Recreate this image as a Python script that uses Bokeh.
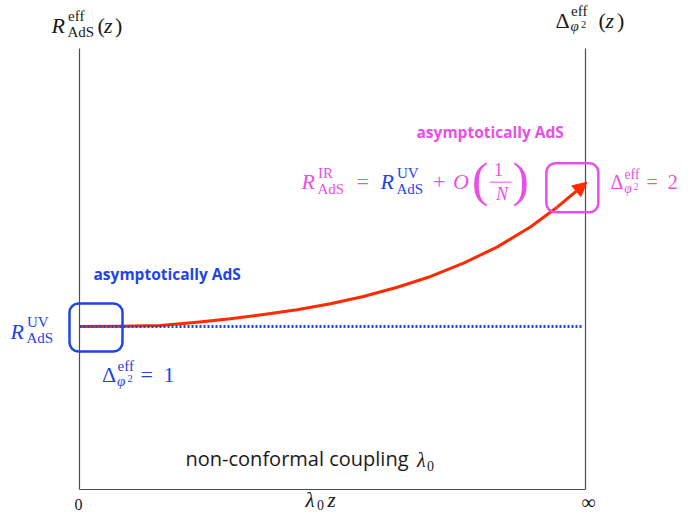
from bokeh.plotting import figure
from bokeh.models import Range1d, Label, Arrow, NormalHead
from bokeh.embed import file_html
from bokeh.resources import INLINE

# ---------------- data (schematic) ----------------
# horizontal: lambda_0 z, normalised so that 0 -> left line, 1 (= infinity) -> right line
# vertical: R_eff in units of R_UV (R_UV = 1)
x_ticks = [0.0, 1.0]
x_tick_labels = ["0", "∞"]
R_UV = 1.0
axis_top = 2.705
curve_x = [0.000, 0.081, 0.160, 0.237, 0.298, 0.364, 0.430, 0.496, 0.561,
           0.628, 0.694, 0.759, 0.825, 0.891, 0.944, 1.003]
curve_y = [1.000, 1.001, 1.006, 1.027, 1.047, 1.074, 1.103, 1.140, 1.184,
           1.241, 1.307, 1.389, 1.487, 1.610, 1.732, 1.885]
uv_x = [0.0, 0.994]
uv_y = [R_UV, R_UV]
box_uv = (0.0326, 0.994)     # centre of blue box (UV end)
box_ir = (0.974, 1.851)      # centre of magenta box (IR end)

# ---------------- layout helpers ----------------
X0, XS, Y0, YS = 79.0, 506.0, 489.0, 163.0
def X(px):
    return (px - X0) / XS
def Y(py):
    return (Y0 - py) / YS

W, H = 680, 513
BLUE = "#1f44e8"
MAG = "#e94fe6"
RED = "#ff2a00"
INK = "#1a1a1a"
AX = "#4d4d4d"
SERIF = "Liberation Serif"
SANS = "Open Sans"
MID = {SERIF: 0.34, SANS: 0.39}   # baseline -> middle offset (em)

p = figure(width=W, height=H, output_backend="svg", toolbar_location=None,
           x_range=Range1d(X(0), X(W)), y_range=Range1d(Y(H), Y(0)),
           x_axis_type=None, y_axis_type=None, min_border=0,
           outline_line_color=None, background_fill_color="white")
p.xgrid.visible = False
p.ygrid.visible = False

# frame lines
p.line([x_ticks[0], x_ticks[0]], [0, axis_top], line_color=AX, line_width=1.2)
p.line([x_ticks[1], x_ticks[1]], [0, axis_top], line_color=AX, line_width=1.2)
p.line(x_ticks, [0, 0], line_color=AX, line_width=1.2)

# red flow curve with arrow
p.line(curve_x[:-1], curve_y[:-1], line_color=RED, line_width=3, line_join="round")
p.add_layout(Arrow(x_start=curve_x[-2], y_start=curve_y[-2], x_end=curve_x[-1], y_end=curve_y[-1],
                   line_color=RED, line_width=3,
                   end=NormalHead(size=14, fill_color=RED, line_color=RED, line_width=1)))

# blue dotted constant line
p.line(uv_x, uv_y, line_color=BLUE, line_width=3, line_dash="2 2")

# rounded boxes
p.rect(x=[box_uv[0]], y=[box_uv[1]], width=53, height=48, width_units="screen",
       height_units="screen", fill_alpha=0, line_color=BLUE, line_width=2.5, border_radius=9)
p.rect(x=[box_ir[0]], y=[box_ir[1]], width=52, height=49, width_units="screen",
       height_units="screen", fill_alpha=0, line_color=MAG, line_width=2.5, border_radius=9)

def lab(px, py, text, size, color, style="normal", font=SERIF, align="left"):
    # py is the wanted baseline (pixels from top); place the text by its middle
    ym = py - MID[font] * size
    p.add_layout(Label(x=X(px), y=Y(ym), text=text, text_font=font,
                       text_font_size=f"{size:.1f}px", text_font_style=style,
                       text_color=color, text_align=align, text_baseline="middle"))

def R_sym(px, py, sup, sub, color):
    lab(px, py, "R", 22, color, "italic")
    lab(px + 16.5, py - 11, sup, 15, color)
    lab(px + 16, py + 5, sub, 15, color)

def Delta_sym(px, py, color, s=1.0):
    lab(px, py, "Δ", 22 * s, color)
    lab(px + 15.5 * s, py - 11 * s, "eff", 15 * s, color)
    lab(px + 15 * s, py + 4 * s, "φ", 15 * s, color, "italic")
    lab(px + 25.5 * s, py + 0.5 * s, "2", 10.5 * s, color)

# top-left axis title  R^eff_AdS(z)
R_sym(51, 32, "eff", "AdS", INK)
lab(97, 32, "(", 22, INK)
lab(103.5, 32, "z", 22, INK, "italic")
lab(114.5, 32, ")", 22, INK)

# top-right axis title  Delta^eff_{phi^2}(z)
Delta_sym(555, 27, INK)
lab(598, 27, "(", 22, INK)
lab(605, 27, "z", 22, INK, "italic")
lab(616.5, 27, ")", 22, INK)

# "asymptotically AdS" labels
lab(416, 138, "asymptotically AdS", 15.5, MAG, "bold", SANS)
lab(93, 279.5, "asymptotically AdS", 15.5, BLUE, "bold", SANS)

# R_IR = R_UV + O(1/N)
R_sym(301, 188.5, "IR", "AdS", MAG)
lab(356, 188.5, "=", 22, MAG)
R_sym(380, 188.5, "UV", "AdS", BLUE)
lab(432.5, 188.5, "+", 22, MAG)
lab(452.5, 188.5, "O", 22, MAG, "italic")
lab(471.5, 196, "(", 49, MAG)
lab(498, 175, "1", 18, MAG, align="center")
lab(501.5, 200, "N", 18, MAG, "italic", align="center")
p.line([X(489), X(511)], [Y(181.7), Y(181.7)], line_color=MAG, line_width=1)
lab(512, 196, ")", 49, MAG)

# Delta = 2 (IR) -- slightly smaller so it stays inside the canvas
s2 = 20 / 22
Delta_sym(610, 188.5, MAG, s2)
lab(610 + 39.5 * s2, 188.5, "=", 22 * s2, MAG)
lab(610 + 63 * s2, 188.5, "2", 22 * s2, MAG)

# R_UV on the left
R_sym(10, 338, "UV", "AdS", BLUE)

# Delta = 1 (UV)
Delta_sym(101.5, 381.5, BLUE)
lab(140, 381.5, "=", 22, BLUE)
lab(163, 381.5, "1", 22, BLUE)

# non-conformal coupling lambda_0
lab(185, 466, "non-conformal coupling", 20, INK, "normal", SANS)
lab(416.5, 466, "λ", 20, INK, "italic")
lab(426.5, 470, "0", 14, INK)

# x tick labels and x label (kept inside the canvas)
lab(X0 + XS * x_ticks[0] - 1, 509, x_tick_labels[0], 16, INK, align="center")
lab(X0 + XS * x_ticks[1] + 3, 508, x_tick_labels[1], 20, INK, align="center")
lab(305, 506.5, "λ", 21, INK, "italic")
lab(316.5, 509.5, "0", 14, INK)
lab(327, 506.5, "z", 21, INK, "italic")

open("out.html", "w").write(file_html(p, INLINE))
